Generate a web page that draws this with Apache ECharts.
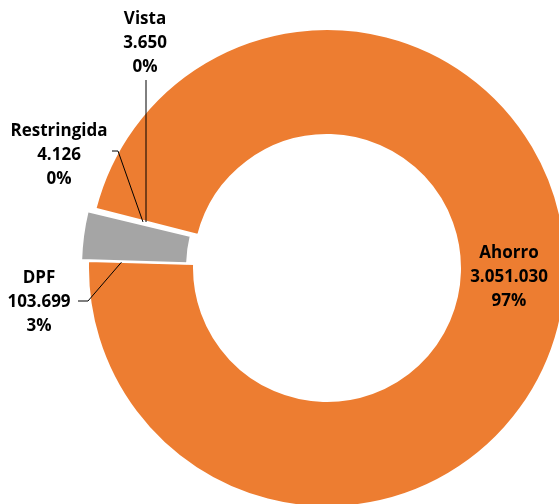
<!DOCTYPE html>
<html>
<head>
<meta charset="utf-8">
<script src="https://cdn.jsdelivr.net/npm/echarts@6/dist/echarts.min.js"></script>
<style>
  html, body { margin: 0; padding: 0; background: #fff; }
  #chart { width: 559px; height: 504px; }
</style>
</head>
<body>
<div id="chart"></div>
<script>
// data, in drawing order (clockwise from the left)
const names = ['DPF', 'Restringida', 'Vista', 'Ahorro']
const values = [103699, 4126, 3650, 3051030]
const colors = ['#A5A5A5', '#FFFFFF', '#FFFFFF', '#ED7D31']
const exploded = [true, false, false, false]

// label centres and leader lines, placed the way the original puts them
const labelPos = [
  { x: 39, y: 302, line: [[138, 243], [88, 301], [78, 301]] },
  { x: 59, y: 155, line: [[143, 222], [118, 151], [112, 151]] },
  { x: 145, y: 43, line: [[146, 222], [146, 150], [146, 80]] },
  { x: 509, y: 277, line: null }
]

const fmtNum = v => String(v).replace(/\B(?=(\d{3})+(?!\d))/g, '.')

const center = [327, 268]
const startAngle = 178.3
const offset = 7

// the exploded slice is pulled out along its bisector
const total = values.reduce((a, b) => a + b, 0)
const dpfMid = (startAngle - values[0] / total * 180) * Math.PI / 180
const shifted = [center[0] + Math.cos(dpfMid) * offset, center[1] - Math.sin(dpfMid) * offset]

const hidden = { color: 'rgba(0,0,0,0)', borderWidth: 0 }

const chart = echarts.init(document.getElementById('chart'))

const base = {
  type: 'pie',
  radius: [133, 239],
  startAngle: startAngle,
  clockwise: true,
  percentPrecision: 0,
  avoidLabelOverlap: false,
  emphasis: { disabled: true },
  itemStyle: { borderColor: '#fff', borderWidth: 2 }
}

chart.setOption({
  animation: false,
  backgroundColor: '#fff',
  series: [
    Object.assign({}, base, {
      z: 1,
      center: center,
      label: { show: false },
      labelLine: { show: false },
      data: names.map((name, i) => ({
        name: name,
        value: values[i],
        itemStyle: exploded[i] ? hidden : { color: colors[i] }
      }))
    }),
    Object.assign({}, base, {
      z: 2,
      center: shifted,
      label: {
        show: true,
        position: 'outside',
        fontFamily: 'Open Sans',
        fontWeight: 'bold',
        fontSize: 17,
        lineHeight: 24,
        color: '#000',
        align: 'center',
        formatter: p => p.name + '\n' + fmtNum(p.value) + '\n' + p.percent + '%'
      },
      labelLine: {
        show: true,
        lineStyle: { color: '#000', width: 1 }
      },
      labelLayout: params => {
        const pos = labelPos[params.dataIndex]
        const out = { x: pos.x, y: pos.y, align: 'center', verticalAlign: 'middle' }
        if (pos.line) out.labelLinePoints = pos.line
        return out
      },
      data: names.map((name, i) => ({
        name: name,
        value: values[i],
        itemStyle: exploded[i] ? { color: colors[i] } : hidden,
        labelLine: { show: labelPos[i].line !== null }
      }))
    })
  ]
})
</script>
</body>
</html>
